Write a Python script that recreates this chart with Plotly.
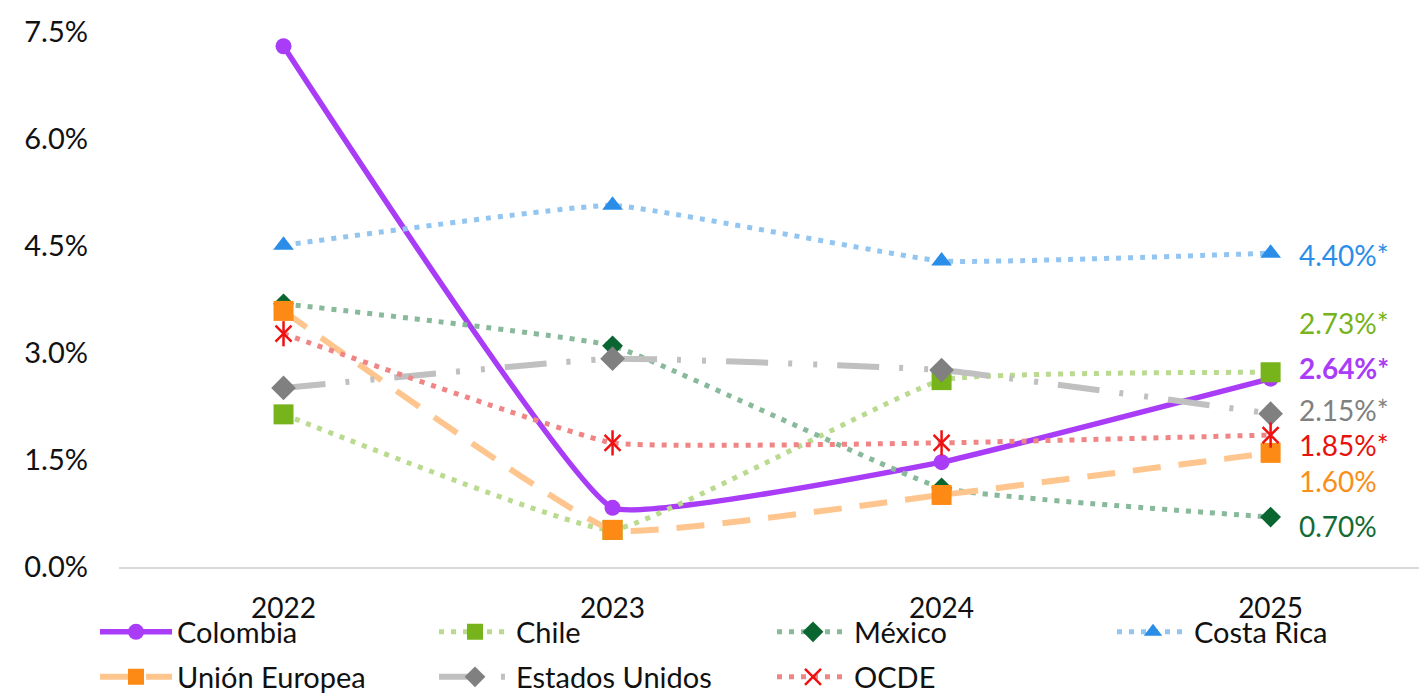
import plotly.graph_objects as go

years = ["2022", "2023", "2024", "2025"]

colombia = [7.30, 0.83, 1.47, 2.64]
chile = [2.14, 0.52, 2.62, 2.73]
mexico = [3.69, 3.10, 1.11, 0.70]
costa_rica = [4.51, 5.07, 4.29, 4.40]
union_europea = [3.59, 0.52, 1.01, 1.60]
estados_unidos = [2.51, 2.92, 2.76, 2.15]
ocde = [3.27, 1.74, 1.74, 1.85]

end_labels = ["2.64%*", "2.73%*", "0.70%", "4.40%*", "1.60%", "2.15%*", "1.85%*"]

y_ticks = [0.0, 1.5, 3.0, 4.5, 6.0, 7.5]

FONT = "Lato"
FS = 29
W, H = 1419, 695
xpos = list(range(len(years)))

series = [
    dict(name="Colombia", y=colombia, line=dict(color="#a93cf6", width=5.5), marker=dict(symbol="circle", size=16, color="#a93cf6")),
    dict(name="Chile", y=chile, line=dict(color="#b9da8f", width=5, dash="5px,7px"), marker=dict(symbol="square", size=20, color="#77b31a")),
    dict(name="México", y=mexico, line=dict(color="#88b99a", width=5, dash="5px,7px"), marker=dict(symbol="diamond", size=16, color="#0a6530")),
    dict(name="Costa Rica", y=costa_rica, line=dict(color="#93c5f1", width=5, dash="5px,7px"), marker=dict(symbol="triangle-up", size=18, color="#2a8de8")),
    dict(name="Unión Europea", y=union_europea, line=dict(color="#fec68e", width=6, dash="28px,18px"), marker=dict(symbol="square", size=20, color="#fd8a14")),
    dict(name="Estados Unidos", y=estados_unidos, line=dict(color="#c0c0c0", width=6, dash="42px,20px,4px,21px,4px,20px"), marker=dict(symbol="diamond", size=19, color="#808080")),
    dict(name="OCDE", y=ocde, line=dict(color="#f08585", width=5, dash="5px,7px"), marker=dict(symbol="x-thin-open", size=16, color="#ee1111", line=dict(width=2.5, color="#ee1111"))),
]

label_colors = ["#a93cf6", "#77b31a", "#136b35", "#2a8de8", "#f98e1a", "#808080", "#e8130f"]
label_yshift = [11, 49, -9, -2, -28, 4, -10]
label_bold = [True, False, False, False, False, False, False]

# legend layout: one legend box per entry (column, row), in container pixels
legend_cols = [95, 434, 772, 1112, 95, 434, 772]   # left edge of each legend box
legend_rows = [0, 0, 0, 0, 1, 1, 1]
legend_row_px = [632, 677]                          # vertical centre of each row

PLOT_L = 119

fig = go.Figure()
for i, s in enumerate(series):
    lname = "legend" if i == 0 else f"legend{i + 1}"
    fig.add_trace(go.Scatter(
        x=xpos, y=s["y"], name=s["name"], mode="lines+markers",
        line=dict(shape="spline", smoothing=0.3, **s["line"]),
        marker=s["marker"], legend=lname, cliponaxis=False,
    ))
# vertical stroke of the OCDE star marker
fig.add_trace(go.Scatter(
    x=xpos, y=ocde, mode="markers", showlegend=False, cliponaxis=False,
    marker=dict(symbol="line-ns-open", size=18, color="#ee1111", line=dict(width=2.5, color="#ee1111")),
))

for s, txt, col, ys, b in zip(series, end_labels, label_colors, label_yshift, label_bold):
    fig.add_annotation(
        x=xpos[-1], y=s["y"][-1], text=f"<b>{txt}</b>" if b else txt,
        xanchor="left", yanchor="middle", xshift=26, yshift=ys, showarrow=False,
        font=dict(family=FONT, size=FS - 1, color=col),
    )

legends = {}
for i in range(len(series)):
    lname = "legend" if i == 0 else f"legend{i + 1}"
    legends[lname] = dict(
        orientation="h", xanchor="left", yanchor="middle",
        xref="container", yref="container",
        x=legend_cols[i] / W, y=1 - legend_row_px[legend_rows[i]] / H,
        itemwidth=72,
        font=dict(family=FONT, size=FS, color="#111111"), bgcolor="rgba(0,0,0,0)",
        itemclick=False, itemdoubleclick=False,
    )

fig.update_layout(
    width=W, height=H,
    margin=dict(l=PLOT_L, r=0, t=32, b=128),
    paper_bgcolor="white", plot_bgcolor="white",
    font=dict(family=FONT, size=FS, color="#111111"),
    xaxis=dict(
        range=[-0.5, 3.451], tickvals=xpos, ticktext=years, automargin=False,
        showgrid=False, zeroline=False, showline=True, linecolor="#d9d9d9", linewidth=2,
        ticks="", ticklabelstandoff=15, tickfont=dict(family=FONT, size=FS - 1, color="#111111"),
    ),
    yaxis=dict(
        range=[0, 7.5], tickvals=y_ticks, ticktext=[f"{v:.1f}%" for v in y_ticks], automargin=False,
        showgrid=False, zeroline=False, showline=False, ticks="",
        ticklabelstandoff=30, tickfont=dict(family=FONT, size=FS, color="#111111"),
    ),
    showlegend=True,
    **legends,
)

fig.write_html("out.html")
